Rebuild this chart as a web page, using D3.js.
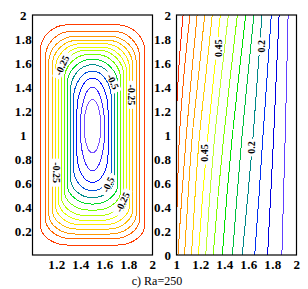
<!DOCTYPE html>
<html>
<head>
<meta charset="utf-8">
<script src="https://cdn.jsdelivr.net/npm/d3@7"></script>
<style>
  html, body { margin: 0; padding: 0; background: #fff; }
  svg { display: block; }
  .tick text { font-family: "Liberation Serif", "Times New Roman", serif; font-weight: bold; font-size: 13px; letter-spacing: 0.4px; fill: #000; }
  .clabel { font-family: "Liberation Serif", "Times New Roman", serif; font-weight: bold; font-size: 10px; fill: #000; }
  .iso { shape-rendering: crispEdges; }
</style>
</head>
<body>
<svg id="chart" width="308" height="289"></svg>
<script>
// streamfunction contours, outer -> inner
var psiLevels = [-0.05, -0.1, -0.15, -0.2, -0.25, -0.3, -0.35, -0.4, -0.45, -0.5, -0.55, -0.6, -0.65, -0.7];
var psiX0 = [1.065, 1.107, 1.135, 1.163, 1.19, 1.215, 1.238, 1.263, 1.288, 1.315, 1.342, 1.37, 1.398, 1.43];
var psiX1 = [1.935, 1.893, 1.865, 1.837, 1.81, 1.785, 1.762, 1.737, 1.712, 1.685, 1.658, 1.63, 1.602, 1.57];
var psiY0 = [0.083, 0.136, 0.175, 0.216, 0.252, 0.289, 0.327, 0.374, 0.424, 0.477, 0.535, 0.605, 0.701, 0.851];
var psiY1 = [1.919, 1.864, 1.822, 1.789, 1.761, 1.733, 1.706, 1.672, 1.633, 1.586, 1.533, 1.475, 1.4, 1.295];
// corner radii of each loop (data units)
var psiRx  = [0.23, 0.22, 0.22, 0.21, 0.21, 0.21, 0.21, 0.21, 0.2125, 0.185, 0.158, 0.13, 0.102, 0.07];
var psiRyT = [0.22, 0.22, 0.22, 0.22, 0.22, 0.22, 0.22, 0.22, 0.22, 0.22, 0.24, 0.28, 0.35, 0.225];
var psiRyB = [0.17, 0.17, 0.17, 0.17, 0.17, 0.17, 0.17, 0.17, 0.17, 0.17, 0.19, 0.24, 0.35, 0.22];

var psiLabels = [
  {text: "-0.25", x: 1.246, y: 1.58, angle: -65},
  {text: "-0.5", x: 1.67, y: 1.445, angle: 65},
  {text: "-0.25", x: 1.825, y: 1.335, angle: 90},
  {text: "-0.25", x: 1.196, y: 0.686, angle: 90},
  {text: "-0.5", x: 1.63, y: 0.586, angle: -65},
  {text: "-0.25", x: 1.75, y: 0.44, angle: -65}
];

// isotherms: x position at each height
var tLevels = [0.05, 0.1, 0.15, 0.2, 0.25, 0.3, 0.35, 0.4, 0.45, 0.5, 0.55, 0.6, 0.65, 0.7];
var tLines = [
  [[1.878, 0], [1.892, 0.5], [1.906, 1], [1.918, 1.5], [1.93, 2]],
  [[1.759, 0], [1.785, 0.5], [1.81, 1], [1.832, 1.5], [1.855, 2]],
  [[1.652, 0], [1.688, 0.5], [1.721, 1], [1.756, 1.5], [1.79, 2]],
  [[1.548, 0], [1.595, 0.5], [1.639, 1], [1.676, 1.5], [1.712, 2]],
  [[1.466, 0], [1.505, 0.5], [1.547, 1], [1.595, 1.5], [1.645, 2]],
  [[1.382, 0], [1.42, 0.5], [1.466, 1], [1.52, 1.5], [1.577, 2]],
  [[1.306, 0], [1.347, 0.5], [1.395, 1], [1.45, 1.5], [1.507, 2]],
  [[1.244, 0], [1.278, 0.5], [1.32, 1], [1.375, 1.5], [1.432, 2]],
  [[1.182, 0], [1.218, 0.5], [1.262, 1], [1.312, 1.5], [1.365, 2]],
  [[1.125, 0], [1.155, 0.5], [1.192, 1], [1.245, 1.5], [1.298, 2]],
  [[1.067, 0], [1.097, 0.5], [1.132, 1], [1.184, 1.5], [1.235, 2]],
  [[1.012, 0], [1.045, 0.5], [1.082, 1], [1.125, 1.5], [1.172, 2]],
  [[1.0, 0.25], [1.01, 0.6], [1.025, 1], [1.062, 1.5], [1.112, 2]],
  [[1.0, 1.2], [1.01, 1.4], [1.022, 1.6], [1.055, 2]]
];
var tLabels = [
  {text: "0.45", x: 1.348, y: 1.722, angle: -90},
  {text: "0.2", x: 1.707, y: 1.74, angle: -90},
  {text: "0.45", x: 1.236, y: 0.849, angle: -90},
  {text: "0.2", x: 1.623, y: 0.895, angle: -90}
];

var psiColors = ["#ff3c00", "#ff6400", "#ff9600", "#ffbe00", "#ffe600", "#e6ff00", "#b4ff00",
                 "#6eff00", "#00dc28", "#008c8c", "#0050dc", "#0014ff", "#3c28ff", "#7850ff"];
var tColors = ["#6040ff", "#0000e0", "#0030f0", "#008888", "#00c040", "#00e000", "#80ff00",
               "#c0ff30", "#ffff00", "#ffd000", "#ffa800", "#ff8c00", "#ff6000", "#ff2800"];

var xTicksL = [1.2, 1.4, 1.6, 1.8, 2];
var yTicksL = [0.2, 0.4, 0.6, 0.8, 1, 1.2, 1.4, 1.6, 1.8, 2];
var xTicksR = [1, 1.2, 1.4, 1.6, 1.8, 2];
var yTicksR = [0, 0.2, 0.4, 0.6, 0.8, 1, 1.2, 1.4, 1.6, 1.8, 2];

var svg = d3.select("#chart");

var xL = d3.scaleLinear().domain([1, 2]).range([32.5, 152.5]);
var xR = d3.scaleLinear().domain([1, 2]).range([176.5, 296.5]);
var y = d3.scaleLinear().domain([0, 2]).range([255, 15]);

svg.append("clipPath").attr("id", "clipL").append("rect")
    .attr("x", xL(1)).attr("y", y(2)).attr("width", xL(2) - xL(1)).attr("height", y(0) - y(2));
svg.append("clipPath").attr("id", "clipR").append("rect")
    .attr("x", xR(1)).attr("y", y(2)).attr("width", xR(2) - xR(1)).attr("height", y(0) - y(2));

// ---- left: streamlines ----
var loopPath = function(i) {
    var L = xL(psiX0[i]), R = xL(psiX1[i]), T = y(psiY1[i]), B = y(psiY0[i]);
    var rx = xL(1 + psiRx[i]) - xL(1);
    var rt = y(0) - y(psiRyT[i]);
    var rb = y(0) - y(psiRyB[i]);
    return "M" + L + "," + (T + rt) +
        "L" + L + "," + (B - rb) +
        "A" + rx + "," + rb + " 0 0 0 " + (L + rx) + "," + B +
        "L" + (R - rx) + "," + B +
        "A" + rx + "," + rb + " 0 0 0 " + R + "," + (B - rb) +
        "L" + R + "," + (T + rt) +
        "A" + rx + "," + rt + " 0 0 0 " + (R - rx) + "," + T +
        "L" + (L + rx) + "," + T +
        "A" + rx + "," + rt + " 0 0 0 " + L + "," + (T + rt) + "Z";
};

var gL = svg.append("g").attr("clip-path", "url(#clipL)");
gL.selectAll("path")
    .data(psiLevels)
    .enter().append("path")
    .attr("class", "iso")
    .attr("d", function(d, i) { return loopPath(i); })
    .attr("fill", "none")
    .attr("stroke", function(d, i) { return psiColors[i]; })
    .attr("stroke-width", 1);

// ---- right: isotherms ----
var line = d3.line()
    .x(function(d) { return xR(d[0]); })
    .y(function(d) { return y(d[1]); })
    .curve(d3.curveMonotoneY);

var gR = svg.append("g").attr("clip-path", "url(#clipR)");
gR.selectAll("path")
    .data(tLines)
    .enter().append("path")
    .attr("class", "iso")
    .attr("d", function(d) { return line(d.slice().reverse()); })
    .attr("fill", "none")
    .attr("stroke", function(d, i) { return tColors[i]; })
    .attr("stroke-width", 1);

// contour labels with a white patch under them
var addLabels = function(g, labels, xs) {
    var lab = g.selectAll("g.lab")
        .data(labels)
        .enter().append("g")
        .attr("class", "lab")
        .attr("transform", function(d) {
            return "translate(" + xs(d.x) + "," + y(d.y) + ") rotate(" + d.angle + ")";
        });
    lab.append("rect")
        .attr("x", function(d) { return -d.text.length * 2.6 - 1; })
        .attr("y", -4.5)
        .attr("width", function(d) { return d.text.length * 5.2 + 2; })
        .attr("height", 9)
        .attr("fill", "#fff");
    lab.append("text")
        .attr("class", "clabel")
        .attr("text-anchor", "middle")
        .attr("dy", "0.35em")
        .text(function(d) { return d.text; });
};
addLabels(svg.append("g"), psiLabels, xL);
addLabels(svg.append("g"), tLabels, xR);

// ---- frames & axes ----
[xL, xR].forEach(function(xs) {
    svg.append("rect")
        .attr("x", xs(1)).attr("y", y(2))
        .attr("width", xs(2) - xs(1)).attr("height", y(0) - y(2))
        .attr("fill", "none").attr("stroke", "#000").attr("stroke-width", 1.2);
});

var fmt = d3.format("");

svg.append("g")
    .attr("transform", "translate(0," + y(0) + ")")
    .call(d3.axisBottom(xL).tickValues(xTicksL).tickSize(0).tickPadding(5).tickFormat(fmt))
    .call(function(g) { g.select(".domain").remove(); });

svg.append("g")
    .attr("transform", "translate(0," + y(0) + ")")
    .call(d3.axisBottom(xR).tickValues(xTicksR).tickSize(0).tickPadding(5).tickFormat(fmt))
    .call(function(g) { g.select(".domain").remove(); });

svg.append("g")
    .attr("transform", "translate(" + xL(1) + ",0)")
    .call(d3.axisLeft(y).tickValues(yTicksL).tickSize(0).tickPadding(9).tickFormat(fmt))
    .call(function(g) {
        g.select(".domain").remove();
        g.selectAll("text").attr("text-anchor", "middle");
    });

svg.append("g")
    .attr("transform", "translate(" + xR(1) + ",0)")
    .call(d3.axisLeft(y).tickValues(yTicksR).tickSize(0).tickPadding(5).tickFormat(fmt))
    .call(function(g) { g.select(".domain").remove(); });

svg.append("text")
    .attr("x", 157)
    .attr("y", 285)
    .attr("text-anchor", "middle")
    .style("font-family", "'Liberation Serif', 'Times New Roman', serif")
    .style("font-size", "12px")
    .text("c) Ra=250");
</script>
</body>
</html>
